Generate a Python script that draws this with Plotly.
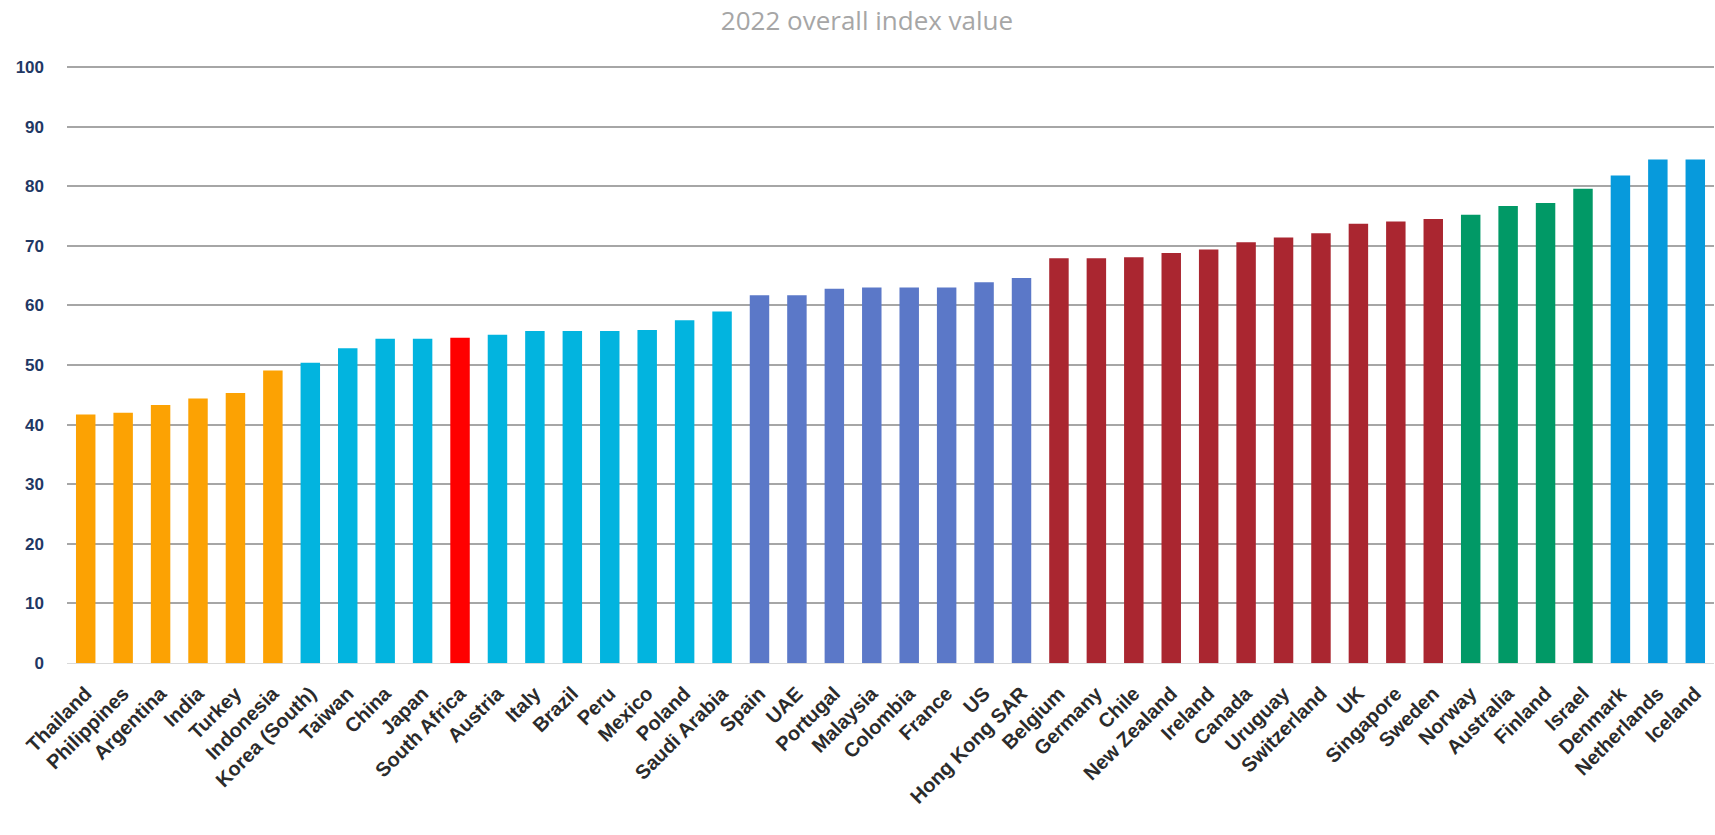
import plotly.graph_objects as go

countries = ["Thailand", "Philippines", "Argentina", "India", "Turkey", "Indonesia",
             "Korea (South)", "Taiwan", "China", "Japan", "South Africa", "Austria",
             "Italy", "Brazil", "Peru", "Mexico", "Poland", "Saudi Arabia",
             "Spain", "UAE", "Portugal", "Malaysia", "Colombia", "France", "US",
             "Hong Kong SAR", "Belgium", "Germany", "Chile", "New Zealand", "Ireland",
             "Canada", "Uruguay", "Switzerland", "UK", "Singapore", "Sweden",
             "Norway", "Australia", "Finland", "Israel", "Denmark", "Netherlands", "Iceland"]
values = [41.7, 42.0, 43.3, 44.4, 45.3, 49.1,
          50.4, 52.8, 54.4, 54.4, 54.6, 55.1,
          55.7, 55.7, 55.7, 55.9, 57.5, 59.0,
          61.7, 61.7, 62.8, 63.0, 63.0, 63.0, 63.9,
          64.6, 67.9, 67.9, 68.1, 68.8, 69.4,
          70.6, 71.4, 72.1, 73.7, 74.1, 74.5,
          75.2, 76.7, 77.2, 79.6, 81.8, 84.5, 84.5]
groups = (["orange"] * 6 + ["cyan"] * 4 + ["red"] + ["cyan"] * 7 +
          ["periwinkle"] * 8 + ["darkred"] * 11 + ["green"] * 4 + ["blue"] * 3)
group_colors = {"orange": "#FCA203", "cyan": "#02B4DF", "red": "#FF0000",
                "periwinkle": "#5B78C8", "darkred": "#AA2630", "green": "#019966",
                "blue": "#079ADC"}
y_ticks = [0, 10, 20, 30, 40, 50, 60, 70, 80, 90, 100]

colors = [group_colors[g] for g in groups]

fig = go.Figure(go.Bar(x=countries, y=values, marker=dict(color=colors, line=dict(width=0))))

fig.update_layout(
    width=1715, height=835,
    margin=dict(l=67, r=1, t=65, b=172),
    paper_bgcolor="white", plot_bgcolor="white",
    bargap=0.48,
    showlegend=False,
    title=dict(text="2022 overall index value", x=867 / 1715, xanchor="center",
               y=1 - 21 / 835, yanchor="middle",
               font=dict(family="Open Sans", size=26, color="#A6A6A6")),
)
fig.update_xaxes(
    type="category", tickangle=-45, showgrid=False, showline=True,
    linecolor="#D9D9D9", linewidth=1, ticks="", automargin=False,
    ticklabelstandoff=10,
    tickfont=dict(family="Liberation Sans", size=20, color="#2B2B2B", weight="bold"),
)
fig.update_yaxes(
    range=[0, 100.35], tickvals=y_ticks, showgrid=True, gridcolor="#A6A6A6", gridwidth=1.5,
    zeroline=False, showline=False, ticks="", ticklabelstandoff=22, automargin=False,
    tickfont=dict(family="Liberation Sans", size=17, color="#1F3864", weight="bold"),
)

fig.write_html("out.html")
